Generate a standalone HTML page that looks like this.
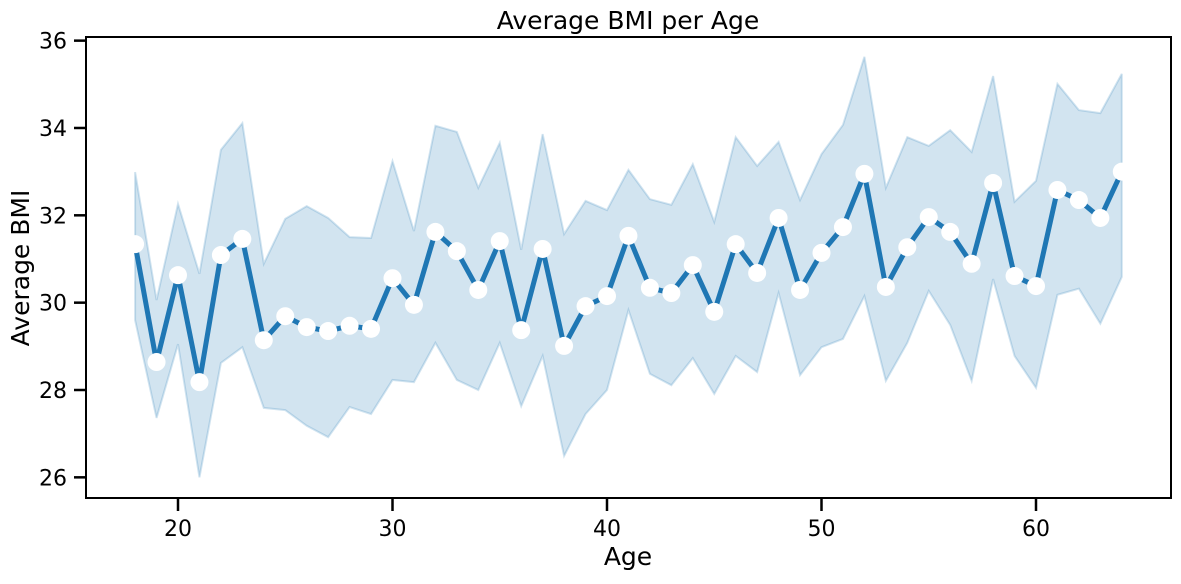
<!DOCTYPE html>
<html><head><meta charset="utf-8"><style>
html,body{margin:0;padding:0;background:#fff;}
svg text{font-family:"DejaVu Sans","Liberation Sans",sans-serif;fill:#000;}
</style></head><body>
<svg id="chart" width="1181" height="579" viewBox="0 0 1181 579">
<rect width="1181" height="579" fill="#fff"/>
<g id="band"></g>
<g id="line"></g>
<g id="pts"></g>
<rect x="86" y="37" width="1085" height="461" fill="none" stroke="#000" stroke-width="2"/>
<g id="xt"></g>
<g id="yt"></g>
<text x="628" y="29" text-anchor="middle" font-size="25">Average BMI per Age</text>
<text x="628" y="565" text-anchor="middle" font-size="25">Age</text>
<text x="0" y="0" transform="translate(29,268) rotate(-90)" text-anchor="middle" font-size="25">Average BMI</text>
</svg>
<script>
const ages=[18,19,20,21,22,23,24,25,26,27,28,29,30,31,32,33,34,35,36,37,38,39,40,41,42,43,44,45,46,47,48,49,50,51,52,53,54,55,56,57,58,59,60,61,62,63,64];
const meanBmi=[31.34,28.64,30.63,28.18,31.09,31.46,29.14,29.69,29.44,29.35,29.47,29.40,30.56,29.95,31.62,31.18,30.29,31.41,29.37,31.23,29.01,29.92,30.15,31.53,30.34,30.22,30.86,29.79,31.34,30.68,31.94,30.29,31.14,31.73,32.95,30.36,31.27,31.96,31.62,30.89,32.74,30.61,30.38,32.58,32.35,31.94,33.0];
const upperBmi=[32.99,30.06,32.26,30.66,33.50,34.11,30.89,31.92,32.21,31.94,31.50,31.48,33.24,31.64,34.05,33.91,32.63,33.66,31.21,33.86,31.57,32.33,32.12,33.04,32.37,32.24,33.17,31.85,33.79,33.13,33.68,32.35,33.40,34.07,35.63,32.63,33.79,33.59,33.95,33.45,35.19,32.31,32.79,35.01,34.41,34.34,35.24];
const lowerBmi=[29.60,27.36,29.05,26.0,28.62,28.98,27.59,27.54,27.18,26.92,27.61,27.45,28.23,28.18,29.08,28.23,28.0,29.08,27.63,28.78,26.49,27.45,28.0,29.83,28.37,28.11,28.73,27.91,28.78,28.41,30.22,28.34,28.98,29.17,30.15,28.21,29.08,30.27,29.49,28.21,30.54,28.78,28.05,30.18,30.32,29.52,30.59];
const xTicks=[20,30,40,50,60];
const yTicks=[26,28,30,32,34,36];
const NS="http://www.w3.org/2000/svg";
function X(a){return 178+(a-20)*21.45;}
function Y(v){return 390-(v-28)*43.67;}
function mk(tag,attrs,parent){const e=document.createElementNS(NS,tag);for(const k in attrs)e.setAttribute(k,attrs[k]);parent.appendChild(e);return e;}
let d="M"+ages.map((a,i)=>X(a)+","+Y(upperBmi[i])).join("L");
for(let i=ages.length-1;i>=0;i--)d+="L"+X(ages[i])+","+Y(lowerBmi[i]);
d+="Z";
const band=mk("path",{d:d,fill:"#1f77b4","fill-opacity":"0.2",stroke:"#1f77b4","stroke-opacity":"0.2","stroke-width":"2"},document.getElementById("band"));


const ln=mk("polyline",{points:ages.map((a,i)=>X(a)+","+Y(meanBmi[i])).join(" "),fill:"none",stroke:"#1f77b4","stroke-width":"5","stroke-linejoin":"round"},document.getElementById("line"));


const pts=document.getElementById("pts");
ages.forEach((a,i)=>{
 const c=mk("circle",{cx:X(a),cy:Y(meanBmi[i]),r:"9",fill:"#fff"},pts);
 
 
});
const xt=document.getElementById("xt");
xTicks.forEach(t=>{
 const l=mk("line",{x1:X(t),x2:X(t),y1:498,y2:511,stroke:"#000","stroke-width":"2.5"},xt);
 
 
 const tx=mk("text",{x:X(t),y:536,"text-anchor":"middle","font-size":"22"},xt);
 tx.textContent=t;
 
 
});
const yt=document.getElementById("yt");
yTicks.forEach(t=>{
 const l=mk("line",{x1:74,x2:86,y1:Y(t),y2:Y(t),stroke:"#000","stroke-width":"2.5"},yt);
 
 
 const tx=mk("text",{x:67,y:Y(t)+8,"text-anchor":"end","font-size":"22"},yt);
 tx.textContent=t;
 
 
});
</script>
</body></html>
